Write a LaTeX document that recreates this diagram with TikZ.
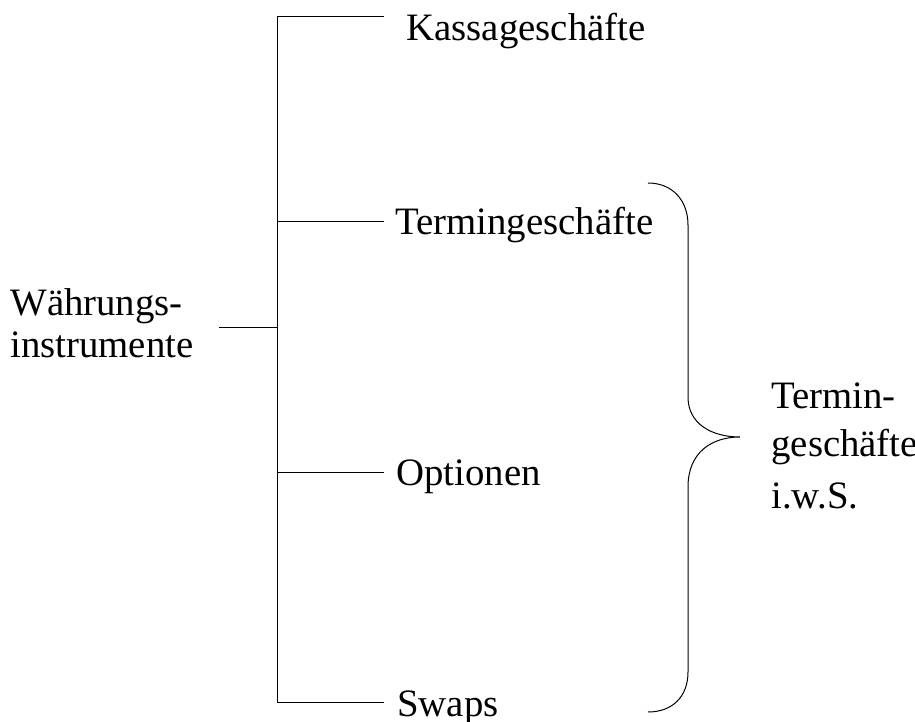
\documentclass[tikz,border=0pt]{standalone}
\usepackage{fontspec}
\setmainfont{Liberation Serif}
\begin{document}
\begin{tikzpicture}[x=0.5pt,y=-0.5pt,
  lbl/.style={anchor=base west, inner sep=0pt, font=\fontsize{19.4}{23}\selectfont},
  ln/.style={line width=0.5pt, black}]
\useasboundingbox (0,0) rectangle (915,722);
% tree spine
\coordinate (sTop) at (277,17);
\coordinate (sBot) at (277,702);
\coordinate (sMid) at (277,327);
\coordinate (sT) at (277,221);
\coordinate (sO) at (277,472);
% labels
\node[lbl] (w1) at (10,315) {Währungs-};
\node[lbl] (w2) at (10,357) {instrumente};
\node[lbl] (kas) at (406,41) {Kassageschäfte};
\node[lbl] (ter) at (395,234) {Termingeschäfte};
\node[lbl] (opt) at (396,485) {Optionen};
\node[lbl] (swp) at (397,716) {Swaps};
\node[lbl] (r1) at (771,408) {Termin-};
\node[lbl] (r2) at (771,456) {geschäfte};
\node[lbl] (r3) at (771,508) {i.w.S.};
% ends of branches
\coordinate (eK) at (384,17);
\coordinate (eT) at (384,221);
\coordinate (eO) at (384,472);
\coordinate (eS) at (384,702);
\coordinate (eW) at (219,327);
\draw[ln] (sTop) -- (sBot);
\draw[ln] (sTop) -- (eK);
\draw[ln] (sT) -- (eT);
\draw[ln] (sO) -- (eO);
\draw[ln] (sBot) -- (eS);
\draw[ln] (eW) -- (sMid);
% brace
\draw[ln] (648,183) .. controls (672,183) and (688,200) .. (688,225)
  -- (688,397) .. controls (688,424) and (712,437) .. (740,437)
  .. controls (712,437) and (688,452) .. (688,487)
  -- (688,672) .. controls (688,697) and (672,712) .. (648,712);
\end{tikzpicture}
\end{document}
